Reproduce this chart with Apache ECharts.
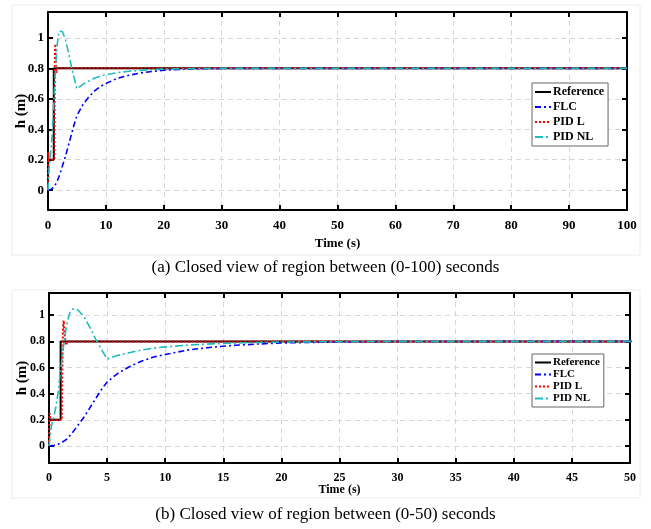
<!DOCTYPE html>
<html>
<head>
<meta charset="utf-8">
<script src="https://cdn.jsdelivr.net/npm/echarts@6/dist/echarts.min.js"></script>
<style>
  html, body { margin: 0; padding: 0; background: #fff; }
  #chart { width: 651px; height: 529px; }
</style>
</head>
<body>
<div id="chart"></div>
<script>
// time (s) / level h (m)
const refTime = [0, 0, 1, 1, 100]
const refLevel = [0, 0.2, 0.2, 0.8, 0.8]

const flcTime = [0, 0.5, 1, 1.5, 2, 2.5, 3, 3.5, 4, 4.5, 5, 6, 7, 8, 9, 10, 12, 14, 16, 18, 20, 25, 30, 40, 100]
const flcLevel = [0, 0.005, 0.02, 0.05, 0.1, 0.16, 0.22, 0.29, 0.36, 0.43, 0.49, 0.56, 0.61, 0.65, 0.68, 0.7, 0.735, 0.755, 0.77, 0.78, 0.788, 0.796, 0.799, 0.8, 0.8]

const pidLTime = [0, 0.06, 0.12, 1.1, 1.15, 1.2, 1.26, 1.34, 1.46, 1.6, 100]
const pidLLevel = [0, 0.25, 0.2, 0.2, 0.6, 0.9, 0.96, 0.86, 0.77, 0.8, 0.8]

const pidNLTime = [0, 0.2, 0.4, 0.6, 0.8, 1, 1.2, 1.4, 1.6, 1.8, 2, 2.2, 2.5, 3, 3.5, 4, 4.5, 5, 5.5, 6, 7, 8, 9, 10, 12, 14, 16, 18, 20, 25, 30, 100]
const pidNLLevel = [0, 0.15, 0.22, 0.3, 0.42, 0.58, 0.73, 0.86, 0.96, 1.02, 1.045, 1.05, 1.04, 0.99, 0.91, 0.82, 0.74, 0.665, 0.68, 0.695, 0.715, 0.735, 0.748, 0.758, 0.772, 0.781, 0.787, 0.792, 0.795, 0.798, 0.8, 0.8]

const seriesNames = ['Reference', 'FLC', 'PID L', 'PID NL']
const captions = [
  '(a) Closed view of region between (0-100) seconds',
  '(b) Closed view of region between (0-50) seconds',
]

function zip(t, v) {
  return t.map((x, i) => [x, v[i]])
}

const font = 'Liberation Serif, Times New Roman, serif'
const lineStyles = [
  { color: '#000000', width: 2, type: 'solid' },
  { color: '#0000ff', width: 1.6, type: [6, 3, 2, 3] },
  { color: '#ff0000', width: 2, type: [2, 2] },
  { color: '#1fbcbc', width: 1.6, type: [8, 3, 2, 3] },
]
const seriesData = [
  zip(refTime, refLevel),
  zip(flcTime, flcLevel),
  zip(pidLTime, pidLLevel),
  zip(pidNLTime, pidNLLevel),
]

const panels = [
  { grid: { left: 48, top: 12, width: 579, height: 198 }, xMax: 100, xStep: 10, fs: 13, nameGap: 27, legendTop: 83, legendSize: 12, itemGap: 3 },
  { grid: { left: 49, top: 293, width: 581, height: 170 }, xMax: 50, xStep: 5, fs: 12, nameGap: 21, legendTop: 354, legendSize: 11, itemGap: 1 },
]

const chart = echarts.init(document.getElementById('chart'))

const grids = []
const xAxes = []
const yAxes = []
const series = []
const legends = []

panels.forEach((p, gi) => {
  grids.push({ ...p.grid, outerBoundsMode: 'none', containLabel: false })
  const tick = { show: true, inside: true, length: 5, lineStyle: { color: '#000', width: 2 } }
  const axisLine = { show: true, onZero: false, lineStyle: { color: '#000', width: 2 } }
  const label = { color: '#000', fontFamily: font, fontWeight: 'bold', fontSize: p.fs }
  xAxes.push({
    type: 'value', gridIndex: gi, min: 0, max: p.xMax, interval: p.xStep,
    axisLine, axisTick: tick,
    axisLabel: { ...label, margin: 9 },
    splitLine: { show: true, lineStyle: { color: '#d6d6d6', type: [5, 4] } },
    name: 'Time (s)', nameLocation: 'middle', nameGap: p.nameGap, nameMoveOverlap: false,
    nameTextStyle: { ...label },
  })
  xAxes.push({
    type: 'value', gridIndex: gi, position: 'top', min: 0, max: p.xMax, interval: p.xStep,
    axisLine, axisTick: tick, axisLabel: { show: false }, splitLine: { show: false },
  })
  yAxes.push({
    type: 'value', gridIndex: gi, min: -0.13, max: 1.17, splitNumber: 6,
    axisLine, axisTick: tick,
    axisLabel: { ...label, margin: 4, showMinLabel: false, showMaxLabel: false },
    splitLine: { show: true, lineStyle: { color: '#d6d6d6', type: [5, 4] } },
    name: 'h (m)', nameLocation: 'middle', nameGap: 19, nameMoveOverlap: false,
    nameTextStyle: { ...label, fontSize: 15 },
  })
  yAxes.push({
    type: 'value', gridIndex: gi, position: 'right', min: -0.13, max: 1.17, splitNumber: 6,
    axisLine, axisTick: tick, axisLabel: { show: false }, splitLine: { show: false },
  })
  seriesNames.forEach((name, si) => {
    series.push({
      name, type: 'line', xAxisIndex: gi * 2, yAxisIndex: gi * 2,
      data: seriesData[si], symbol: 'none', showSymbol: false, animation: false,
      lineStyle: lineStyles[si], itemStyle: { color: lineStyles[si].color },
      clip: true, z: 2 + si,
    })
  })
  legends.push({
    data: seriesNames, orient: 'vertical', left: 532, top: p.legendTop,
    itemWidth: 16, itemHeight: 8, itemGap: p.itemGap,
    itemStyle: { opacity: 0 },
    padding: [3, 4, 3, 2], borderColor: '#666', borderWidth: 1, backgroundColor: '#fff',
    textStyle: { color: '#000', fontFamily: font, fontWeight: 'bold', fontSize: p.legendSize, padding: [0, 0, 0, -3] },
    selectedMode: false,
  })
})

const graphics = [
  { type: 'rect', shape: { x: 12, y: 5, width: 628, height: 250 }, style: { fill: 'none', stroke: '#ececec', lineWidth: 1 }, silent: true },
  { type: 'rect', shape: { x: 12, y: 290, width: 628, height: 208 }, style: { fill: 'none', stroke: '#ececec', lineWidth: 1 }, silent: true },
  { type: 'text', left: 'center', top: 259, style: { text: captions[0], font: '17px ' + font, fill: '#000' } },
  { type: 'text', left: 'center', top: 506, style: { text: captions[1], font: '17px ' + font, fill: '#000' } },
]

chart.setOption({
  animation: false,
  backgroundColor: '#fff',
  grid: grids,
  xAxis: xAxes,
  yAxis: yAxes,
  legend: legends,
  series,
  graphic: graphics,
})
</script>
</body>
</html>
